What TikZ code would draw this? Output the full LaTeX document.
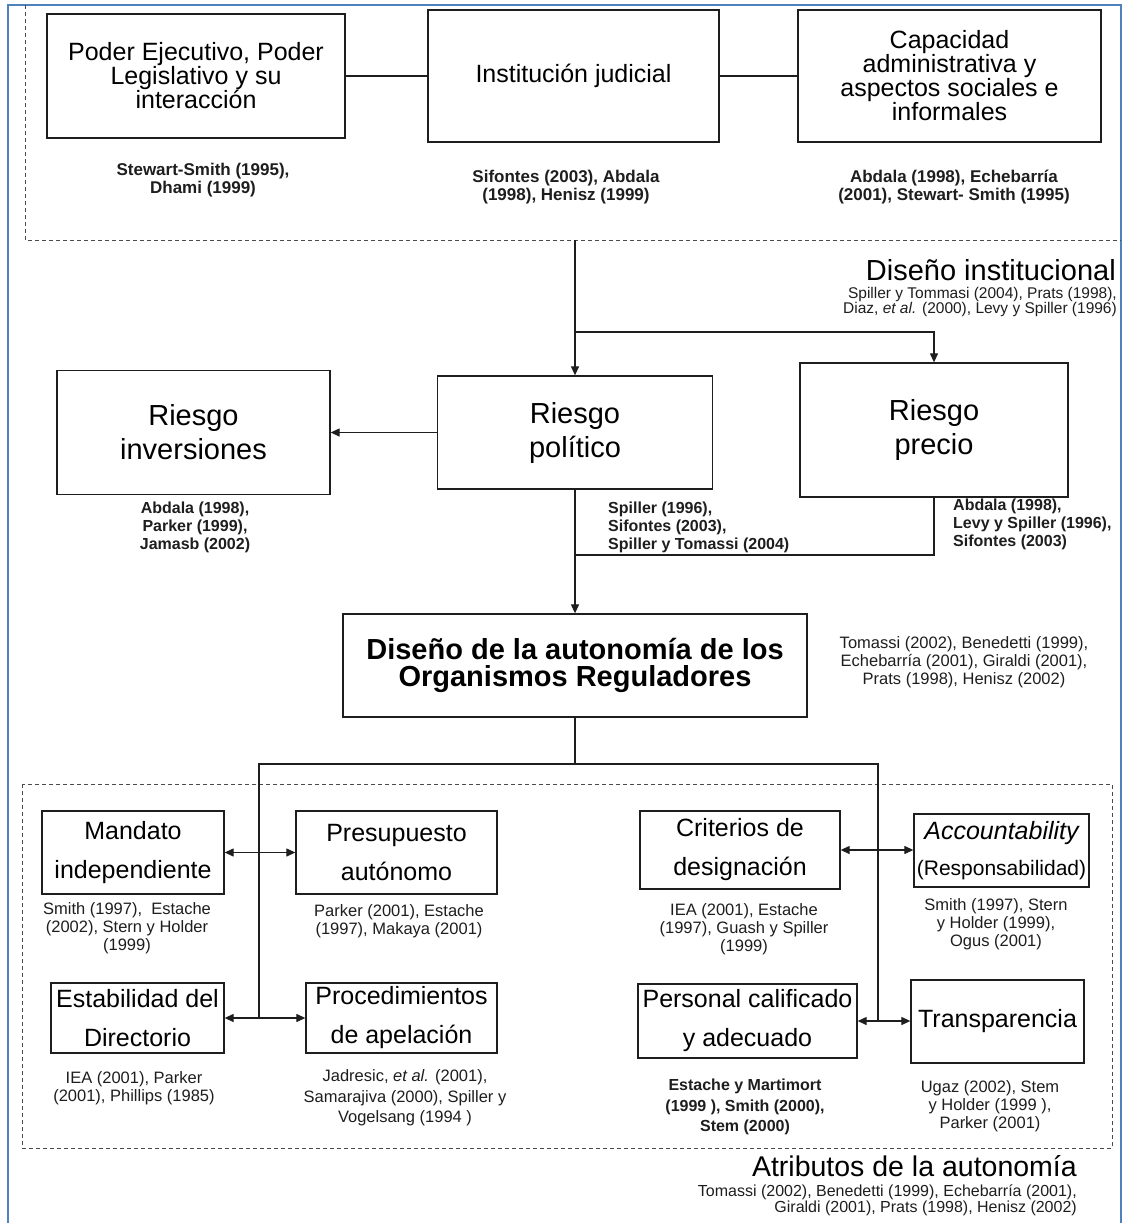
\documentclass[tikz,border=0pt]{standalone}
\usepackage{fontspec}
\setmainfont{Liberation Sans}
\usetikzlibrary{arrows.meta}
\definecolor{framebl}{RGB}{79,129,189}
\definecolor{ink}{RGB}{30,30,30}
\begin{document}
\begin{tikzpicture}[x=1pt,y=-1pt,
  box/.style={draw=ink, line width=1.3pt, inner sep=0pt, align=center},
  conn/.style={draw=ink, line width=1.2pt},
  arr/.style={conn, -{Triangle[length=9pt,width=8pt]}},
  darr/.style={conn, {Triangle[length=9pt,width=8pt]}-{Triangle[length=9pt,width=8pt]}},
  zone/.style={draw=ink!80, line width=0.9pt, dash pattern=on 4pt off 3pt},
  cite/.style={align=center, inner sep=0pt, text=ink, font=\fontsize{16.5}{18}\selectfont},
  citeb/.style={align=center, inner sep=0pt, text=ink, font=\fontsize{16}{18}\selectfont\bfseries},
  topf/.style={font=\fontsize{25}{24}\selectfont},
  riskf/.style={font=\fontsize{29}{34}\selectfont},
  attrf/.style={font=\fontsize{25}{39}\selectfont},
  titlef/.style={font=\fontsize{29}{30}\selectfont}
]
\useasboundingbox (0,0) rectangle (1123,1223);
\fill[white] (0,0) rectangle (1123,1223);

% outer frame
\draw[framebl, line width=2.5pt] (8,1235) -- (8,5) -- (1121,5) -- (1121,1235);

% dashed zones
\draw[zone] (25,5) -- (25,240) -- (1121,240);
\draw[zone] (22,784) rectangle (1112,1148);

% top row: institutional design
\node[box, topf, minimum width=298pt, minimum height=124pt] (poder) at (196,76)
  {Poder Ejecutivo, Poder\\Legislativo y su\\interacción};
\node[box, topf, minimum width=291pt, minimum height=132pt] (judic) at (573.5,76)
  {\raisebox{4pt}{Institución judicial}};
\node[box, topf, minimum width=303pt, minimum height=132pt] (capac) at (949.5,76)
  {Capacidad\\administrativa y\\aspectos sociales e\\informales};
\draw[conn] (poder.east) -- (judic.west);
\draw[conn] (judic.east) -- (capac.west);

\node[citeb, font=\fontsize{17}{18}\selectfont\bfseries] (cpoder) at (203,180) {Stewart-Smith (1995),\\Dhami (1999)};
\node[citeb, font=\fontsize{17}{18}\selectfont\bfseries] (cjudic) at (566,187) {Sifontes (2003), Abdala\\(1998), Henisz (1999)};
\node[citeb, font=\fontsize{17}{18}\selectfont\bfseries] (ccapac) at (954,187) {Abdala (1998), Echebarría\\(2001), Stewart- Smith (1995)};

\node[anchor=east, inner sep=0pt, titlef] (tinst) at (1116,270) {Diseño institucional};
\node[anchor=east, align=right, inner sep=0pt, text=ink, font=\fontsize{15.5}{15}\selectfont] (cinst) at (1117,302)
  {Spiller y Tommasi (2004), Prats (1998),\\Diaz, \textit{et al.} (2000), Levy y Spiller (1996)};

% risks
\node[box, riskf, minimum width=273pt, minimum height=124pt] (rinv) at (193.5,432.5) {Riesgo\\inversiones};
\node[box, riskf, minimum width=275pt, minimum height=113pt] (rpol) at (575,432.5) {Riesgo\\político};
\node[box, riskf, minimum width=268pt, minimum height=134pt] (rpre) at (934,430) {Riesgo\\precio};

\coordinate (tstart) at (575,240);
\coordinate (split) at (575,332);
\coordinate (join) at (575,555);
\draw[arr] (tstart) -- (rpol.north);
\draw[arr] (split) -| (rpre.north);
\draw[arr] (rpol.west) -- (rinv.east);

\node[citeb] (crinv) at (195,527) {Abdala (1998),\\Parker (1999),\\Jamasb (2002)};
\node[citeb, anchor=west, align=left] (crpol) at (608,527) {Spiller (1996),\\Sifontes (2003),\\Spiller y Tomassi (2004)};
\node[citeb, anchor=west, align=left] (crpre) at (953,524) {Abdala (1998),\\Levy y Spiller (1996),\\Sifontes (2003)};

% autonomy design
\node[box, font=\fontsize{29}{27}\selectfont\bfseries, minimum width=464pt, minimum height=103pt] (dis) at (575,665.5)
  {Diseño de la autonomía de los\\Organismos Reguladores};
\draw[arr] (rpol.south) -- (dis.north);
\draw[conn] (rpre.south) |- (join);
\node[cite] (cdis) at (964,662) {Tomassi (2002), Benedetti (1999),\\Echebarría (2001), Giraldi (2001),\\Prats (1998), Henisz (2002)};

% attributes
\node[box, attrf, minimum width=182pt, minimum height=83pt] (mand) at (133,852.5) {Mandato\\independiente};
\node[box, attrf, minimum width=201pt, minimum height=83pt] (pres) at (396.5,852.5) {Presupuesto\\autónomo};
\node[box, attrf, minimum width=173pt, minimum height=70pt] (estab) at (137.5,1018) {Estabilidad del\\Directorio};
\node[box, attrf, minimum width=191pt, minimum height=70pt] (proc) at (401.5,1018) {Procedimientos\\de apelación};
\node[box, attrf, minimum width=200pt, minimum height=78pt] (crit) at (740,850) {Criterios de\\designación};
\node[box, minimum width=175pt, minimum height=73pt, font=\fontsize{21}{36}\selectfont] (acc) at (1001.5,850.5)
  {{\fontsize{25}{36}\selectfont\itshape Accountability}\\(Responsabilidad)};
\node[box, attrf, minimum width=219pt, minimum height=74pt] (pers) at (747.5,1021) {Personal calificado\\y adecuado};
\node[box, attrf, minimum width=173pt, minimum height=83pt] (transp) at (997.5,1021.5) {Transparencia};

\coordinate (hub) at (575,764);
\coordinate (hl) at (259,764);
\coordinate (hr) at (878,764);
\coordinate (lend) at (259,1018);
\coordinate (rend) at (878,1021.5);
\draw[conn] (dis.south) -- (hub);
\draw[conn] (lend) -- (hl) -- (hr) -- (rend);

\draw[darr] (mand.east) -- (pres.west);
\draw[darr] (estab.east) -- (proc.west);
\draw[darr] (crit.east) -- (crit.east -| acc.west);
\draw[darr] (pers.east) -- (pers.east -| transp.west);

\node[cite] (cmand) at (127,928) {Smith (1997),\ \ Estache\\(2002), Stern y Holder\\(1999)};
\node[cite] (cpres) at (399,921) {Parker (2001), Estache\\(1997), Makaya (2001)};
\node[cite] (ccrit) at (744,929) {IEA (2001), Estache\\(1997), Guash y Spiller\\(1999)};
\node[cite] (cacc) at (996,924) {Smith (1997), Stern\\y Holder (1999),\\Ogus (2001)};
\node[cite] (cestab) at (134,1088) {IEA (2001), Parker\\(2001), Phillips (1985)};
\node[cite, font=\fontsize{16.5}{20.5}\selectfont] (cproc) at (405,1098) {Jadresic, \textit{et al.} (2001),\\Samarajiva (2000), Spiller y\\Vogelsang (1994 )};
\node[citeb, font=\fontsize{16}{20.5}\selectfont\bfseries] (cpers) at (745,1107) {Estache y Martimort\\(1999 ), Smith (2000),\\Stem (2000)};
\node[cite] (ctransp) at (990,1106) {Ugaz (2002), Stem\\y Holder (1999 ),\\Parker (2001)};

\node[anchor=east, inner sep=0pt, font=\fontsize{28.5}{30}\selectfont] (tattr) at (1077,1166) {Atributos de la autonomía};
\node[anchor=east, align=right, inner sep=0pt, text=ink, font=\fontsize{16}{16}\selectfont] (cattr) at (1077,1200)
  {Tomassi (2002), Benedetti (1999), Echebarría (2001),\\Giraldi (2001), Prats (1998), Henisz (2002)};
\end{tikzpicture}
\end{document}
